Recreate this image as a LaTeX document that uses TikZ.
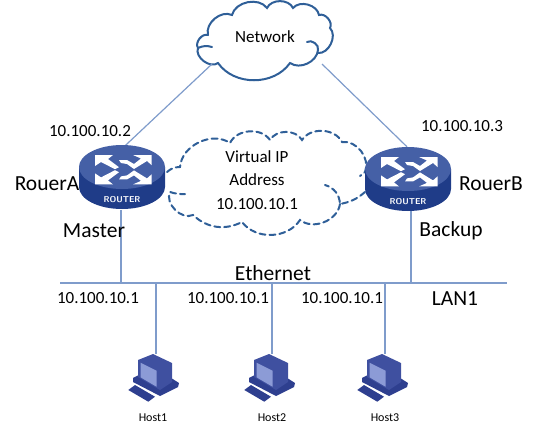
\documentclass[tikz,border=0pt]{standalone}
\usepackage{fontspec}
\setmainfont{Carlito}
\usepackage{xcolor}
\usetikzlibrary{positioning}
\definecolor{linkblue}{HTML}{7F9CCB}
\definecolor{cloudblue}{HTML}{2F5F98}
\definecolor{routertop}{HTML}{4560A6}
\definecolor{routerside}{HTML}{1F3C88}
\definecolor{hostdark}{HTML}{2E3F8F}
\definecolor{hostmid}{HTML}{3F50A0}
\definecolor{hostlight}{HTML}{8C9BD6}
\tikzset{
  routerpic/.pic={
    \fill[routerside] (-43,0) -- (-43,20) arc[start angle=180,end angle=360,x radius=43,y radius=-22] -- (43,0) -- cycle;
    \fill[routertop] (0,0) ellipse[x radius=43,y radius=22];
    \foreach \sy in {-1,1} {
      \fill[white,shift={(0,2.7)},yscale=\sy] (-27,-14.7) -- (-9,-14.7) -- (-14,-10.7) -- (-3,-2.5) -- (-7,-0.5) -- (-21,-7.7) -- (-27,-3.7) -- cycle;
      \fill[white,shift={(0,2.7)},yscale=\sy] (29.5,-14.7) -- (29.5,-4.7) -- (25,-8.7) -- (12,-0.7) -- (5,-5.7) -- (-1,-6.7) -- (-3,-9.7) -- (5,-9.7) -- (12,-5.7) -- (19,-11.2) -- (11,-14.7) -- cycle;
    }
    \node[text=white,font=\fontsize{8.5}{9}\selectfont\sffamily\bfseries] at (0,33) {ROUTER};
  },
  hostpic/.pic={
    \fill[hostdark] (-27.7,35) -- (-21,30) -- (-1,41.7) -- (-7.7,46.7) -- cycle;
    \fill[hostdark] (-23,23) -- (-2,12) -- (23,28) -- (22,32) -- (4,41) -- (-23,27) -- cycle;
    \fill[hostmid] (-18,5) -- (-3,-1) -- (16,8) -- (16,27) -- (4,35) -- (-18,22) -- cycle;
    \fill[hostlight] (-15.5,7.7) -- (0.5,15.7) -- (0.5,31.7) -- (-15.5,22.3) -- cycle;
  }
}
\begin{document}
\begin{tikzpicture}[x=1pt,y=-1pt]
  \tikzstyle{addr}=[font=\fontsize{17}{20}\selectfont,inner sep=0pt]
  \tikzstyle{title}=[font=\fontsize{21.5}{24}\selectfont,inner sep=0pt]
  \tikzstyle{hostlabel}=[font=\fontsize{12}{14}\selectfont,inner sep=0pt]
  \tikzstyle{link}=[draw=linkblue,line width=1.2pt]
  \tikzstyle{hidden}=[inner sep=0pt,minimum width=86pt,minimum height=64pt]
  \tikzstyle{puff}=[draw=cloudblue,line width=2pt,line cap=round]
  \tikzstyle{dashpuff}=[puff,dash pattern=on 6pt off 4pt]
  \useasboundingbox (0,0) rectangle (554,437);
  % network cloud
  \draw[puff] (208,35) to[bend right=70] (198,48) to[bend right=75] (218,63) to[bend right=55] (290,63)
    to[bend right=60] (318,50) to[bend right=70] (307,42);
  \draw[puff] (198,48) to[bend left=20] (212,47);
  \draw[puff] (318,53) to[bend right=70] (330,28) to[bend right=70] (319,15) to[bend right=65] (293,8)
    to[bend right=65] (267,8) to[bend right=65] (232,15) to[bend right=65] (208,35);
  % virtual cloud
  \draw[dashpuff] (167,172) to[bend left=20] (180,167) to[bend left=60] (230,143) to[bend left=60] (270,140)
    to[bend left=60] (302,140) to[bend left=60] (342,142) to[bend left=60] (365,172) to (360,176);
  \draw[dashpuff] (365,192) to[bend left=15] (340,204) to[bend right=35] (325,185);
  \draw[dashpuff] (340,204) to[bend left=60] (300,220) to[bend left=55] (242,222) to[bend left=35] (193,215)
    to[bend left=70] (170,192) to[bend right=10] (185,194);
  \node[font=\fontsize{17}{22}\selectfont] (network) at (265,37) {Network};
  \node[align=center,font=\fontsize{17}{23.5}\selectfont] (virtual) at (257,180) {Virtual IP\\Address\\10.100.10.1};
  \node[hidden] (routerA) at (121,178) {};
  \node[hidden] (routerB) at (411,179) {};
  \node[inner sep=0pt] (host1) at (156,355) {};
  \node[inner sep=0pt] (host2) at (272,355) {};
  \node[inner sep=0pt] (host3) at (385,355) {};
  \coordinate (lanL) at (60,283);
  \coordinate (lanR) at (507,283);
  \coordinate (netL) at (212,64);
  \coordinate (netR) at (322,64);
  \draw[link] (lanL) -- (lanR);
  \foreach \a in {routerA,host1,host2,host3,routerB}
    \draw[link] (\a) -- (\a |- lanL);
  \draw[link] (netL) -- ([xshift=4pt]routerA.north);
  \draw[link] (netR) -- ([xshift=-4pt]routerB.north);
  \pic at (122,167) {routerpic};
  \pic at (408,169) {routerpic};
  \foreach \h in {host1,host2,host3}
    \pic at (\h) {hostpic};
  \node[addr] (addrA) at (90,131) {10.100.10.2};
  \node[addr] (addrB) at (462,126) {10.100.10.3};
  \node[title] (nameA) at (47,184) {RouerA};
  \node[title] (nameB) at (491,184) {RouerB};
  \node[title] (master) at (94,231) {Master};
  \node[title] (backup) at (451,231) {Backup};
  \node[title] (ethernet) at (273,273) {Ethernet};
  \node[title] (lan1) at (455,299) {LAN1};
  \node[addr] (addr1) at (98,298) {10.100.10.1};
  \node[addr] (addr2) at (228,298) {10.100.10.1};
  \node[addr] (addr3) at (342,298) {10.100.10.1};
  \node[hostlabel] (name1) at (153,418) {Host1};
  \node[hostlabel] (name2) at (272,418) {Host2};
  \node[hostlabel] (name3) at (385,418) {Host3};
\end{tikzpicture}
\end{document}
